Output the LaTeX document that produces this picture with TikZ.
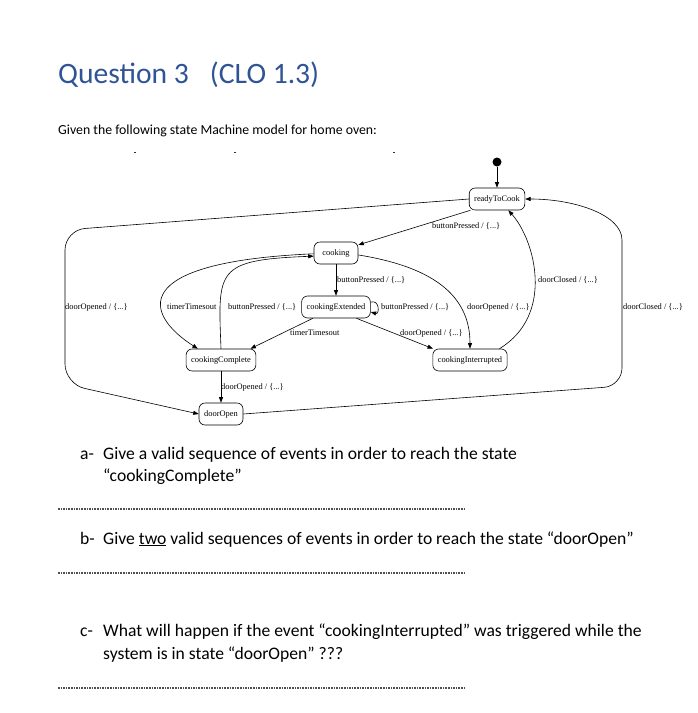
\documentclass[tikz,border=0pt]{standalone}
\usepackage{fontspec}
\setmainfont{Carlito}
\newfontfamily\graphfont{Liberation Serif}
\usepackage{tikz}
\usetikzlibrary{arrows.meta}
\definecolor{headblue}{RGB}{47,84,150}
\definecolor{dotgray}{RGB}{80,80,80}

\begin{document}
\begin{tikzpicture}[x=1pt, y=-1pt, >={Triangle[length=5.5pt, width=4pt]},
  ovenstate/.style={draw, rounded corners=6pt, minimum width=44pt, minimum height=22pt,
                    inner xsep=5pt, line width=0.6pt, font=\graphfont\fontsize{8.4}{10}\selectfont},
  trans/.style={->, line width=0.6pt},
  evt/.style={anchor=west, inner sep=0pt, font=\graphfont\fontsize{8.4}{10}\selectfont},
  qtext/.style={anchor=base west, inner sep=0pt, font=\fontsize{17.6}{21}\selectfont},
  answer/.style={dotgray, line width=1.2pt, dash pattern=on 1.5pt off 1.1pt}]
  \useasboundingbox (0,0) rectangle (697,713);

  \node[anchor=base west, inner sep=0pt, headblue, font=\fontsize{29.6}{34}\selectfont] (title)
    at (58,83) {Question 3\hspace{21pt}(CLO 1.3)};
  \node[anchor=base west, inner sep=0pt, font=\fontsize{13.8}{16}\selectfont] (intro)
    at (58,134) {Given the following state Machine model for home oven:};
  \foreach \mx in {135,235,394}
    \draw[headblue!60!black, line width=0.9pt] (\mx-1,152) -- (\mx+1,152);

  % states
  \node[circle, fill, inner sep=0pt, minimum size=9pt] (init) at (497,162) {};
  \node[ovenstate] (ready) at (497,199) {readyToCook};
  \node[ovenstate] (cooking) at (336,253) {cooking};
  \node[ovenstate] (extended) at (336,307) {cookingExtended};
  \node[ovenstate] (complete) at (221,360) {cookingComplete};
  \node[ovenstate] (interrupted) at (470,360) {cookingInterrupted};
  \node[ovenstate] (dooropen) at (221,414) {doorOpen};

  % transitions
  \draw[trans] (init) -- (ready);
  \draw[trans] (ready.203) -- (cooking.20);
  \draw[trans] (cooking) -- (extended);
  \draw[trans] (extended.8) .. controls +(9,-3) and +(9,3) .. (extended.-8);
  \draw[trans] (extended.206) -- (complete.21);
  \draw[trans] (extended.-29) -- (interrupted.163);
  \draw[trans] (cooking.-5) .. controls (440,268) and (470,300) .. (interrupted.north);
  \draw[trans] (interrupted.21) .. controls (555,315) and (535,240) .. (ready.-45);
  \draw[trans] (complete.north) .. controls (218,270) and (215,260) .. (cooking.188);
  \draw[trans] (cooking.182) .. controls (125,262) and (145,315) .. (complete.154);
  \draw[trans] (complete) -- (dooropen);
  \draw[trans, rounded corners=20pt] (ready.west) -- (65,230) -- (65,384) -- (dooropen.west);
  \draw[trans] (dooropen.east) [rounded corners=18pt] -- (622,386) -- (622,258)
    [sharp corners] .. controls (622,215) and (575,199) .. (ready.east);

  % events
  \node[evt] (evt1) at (432,226) {buttonPressed / \{...\}};
  \node[evt] (evt2) at (65,307) {doorOpened / \{...\}};
  \node[evt] (evt3) at (623,307) {doorClosed / \{...\}};
  \node[evt] (evt4) at (337,280) {buttonPressed / \{...\}};
  \node[evt] (evt5) at (381,307) {buttonPressed / \{...\}};
  \node[evt] (evt6) at (290,333) {timerTimesout};
  \node[evt] (evt7) at (400,333) {doorOpened / \{...\}};
  \node[evt] (evt8) at (467,307) {doorOpened / \{...\}};
  \node[evt] (evt9) at (538,280) {doorClosed / \{...\}};
  \node[evt] (evt10) at (228,307) {buttonPressed / \{...\}};
  \node[evt] (evt11) at (167,307) {timerTimesout};
  \node[evt] (evt12) at (221,387) {doorOpened / \{...\}};

  % questions
  \node[qtext] (qa) at (80,459) {a-};
  \node[qtext] (qa1) at (103,459) {Give a valid sequence of events in order to reach the state};
  \node[qtext] (qa2) at (103,481) {“cookingComplete”};
  \draw[answer] (58,509) -- (464,509);
  \node[qtext] (qb) at (80,544) {b-};
  \node[qtext] (qb1) at (103,544) {Give \underline{two} valid sequences of events in order to reach the state “doorOpen”};
  \draw[answer] (58,573) -- (464,573);
  \node[qtext] (qc) at (80,636) {c-};
  \node[qtext] (qc1) at (103,636) {What will happen if the event “cookingInterrupted” was triggered while the};
  \node[qtext] (qc2) at (103,659) {system is in state “doorOpen” ???};
  \draw[answer] (58,688) -- (464,688);
\end{tikzpicture}
\end{document}
